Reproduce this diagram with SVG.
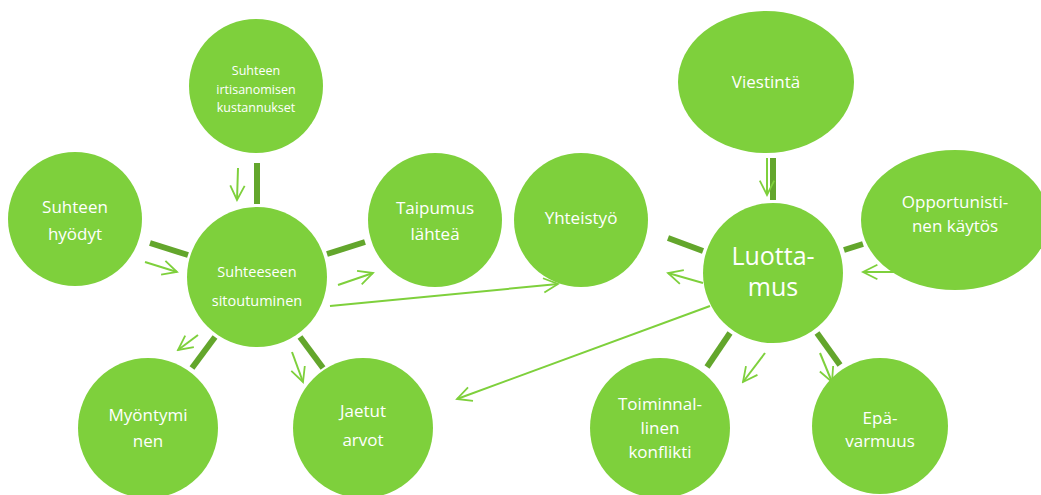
<svg xmlns="http://www.w3.org/2000/svg" width="1041" height="495" viewBox="0 0 1041 495">
  <defs>
    <style>
      .node { fill: #7ed03c; }
      .lbl { fill: #ffffff; font-family: "Open Sans", "Noto Sans", "Liberation Sans", sans-serif; text-anchor: middle; }
      .bar { stroke: #63a62c; stroke-width: 6; fill: none; }
      .arr { stroke: #7ed03c; stroke-width: 2; fill: none; marker-end: url(#head); }
    </style>
    <marker id="head" viewBox="0 0 20 20" refX="18" refY="10" markerWidth="18" markerHeight="18" markerUnits="userSpaceOnUse" orient="auto">
      <path d="M2,2 L18,10 L2,18" fill="none" stroke="#7ed03c" stroke-width="2"/>
    </marker>
  </defs>

  <rect width="1041" height="495" fill="#ffffff"/>

  <g id="connectors">
    <!-- thick links -->
    <line class="bar" x1="257" y1="163" x2="257" y2="204"/>
    <line class="bar" x1="150" y1="243" x2="188" y2="255"/>
    <line class="bar" x1="327" y1="254" x2="365" y2="242"/>
    <line class="bar" x1="215" y1="337" x2="192" y2="368"/>
    <line class="bar" x1="300" y1="337" x2="323" y2="368"/>
    <line class="bar" x1="773" y1="158" x2="773" y2="200"/>
    <line class="bar" x1="668" y1="238" x2="703" y2="251"/>
    <line class="bar" x1="844" y1="250" x2="863" y2="244"/>
    <line class="bar" x1="730" y1="333" x2="707" y2="367"/>
    <line class="bar" x1="817" y1="333" x2="840" y2="365"/>
    <!-- directed links -->
    <line class="arr" x1="238" y1="168" x2="237" y2="200"/>
    <line class="arr" x1="145" y1="262" x2="177" y2="272"/>
    <line class="arr" x1="338" y1="285" x2="373" y2="273"/>
    <line class="arr" x1="198" y1="335" x2="178" y2="350"/>
    <line class="arr" x1="292" y1="352" x2="303" y2="382"/>
    <line class="arr" x1="330" y1="306" x2="558" y2="284"/>
    <line class="arr" x1="710" y1="306" x2="457" y2="399"/>
    <line class="arr" x1="703" y1="283" x2="668" y2="273"/>
    <line class="arr" x1="903" y1="272" x2="863" y2="272"/>
    <line class="arr" x1="767" y1="158" x2="767" y2="195"/>
    <line class="arr" x1="765" y1="353" x2="743" y2="382"/>
    <line class="arr" x1="820" y1="353" x2="832" y2="382"/>
  </g>

  <g id="irtisanomisen">
    <circle class="node" cx="256" cy="86" r="67"/>
    <text class="lbl" font-size="12.5"><tspan x="256" y="75">Suhteen</tspan><tspan x="256" y="94">irtisanomisen</tspan><tspan x="256" y="112">kustannukset</tspan></text>
  </g>
  <g id="hyodyt">
    <circle class="node" cx="75" cy="219" r="67"/>
    <text class="lbl" font-size="17"><tspan x="75" y="213">Suhteen</tspan><tspan x="75" y="240">hyödyt</tspan></text>
  </g>
  <g id="sitoutuminen">
    <circle class="node" cx="257" cy="277" r="70"/>
    <text class="lbl" font-size="14.5"><tspan x="257" y="277">Suhteeseen</tspan><tspan x="257" y="306">sitoutuminen</tspan></text>
  </g>
  <g id="taipumus">
    <circle class="node" cx="435" cy="220" r="67"/>
    <text class="lbl" font-size="17"><tspan x="435" y="214">Taipumus</tspan><tspan x="435" y="240">lähteä</tspan></text>
  </g>
  <g id="myontyminen">
    <circle class="node" cx="148" cy="428" r="70"/>
    <text class="lbl" font-size="17"><tspan x="148" y="421">Myöntymi</tspan><tspan x="148" y="447">nen</tspan></text>
  </g>
  <g id="jaetut">
    <circle class="node" cx="363" cy="428" r="70"/>
    <text class="lbl" font-size="17"><tspan x="363" y="417">Jaetut</tspan><tspan x="363" y="446">arvot</tspan></text>
  </g>
  <g id="yhteistyo">
    <circle class="node" cx="581" cy="220" r="67"/>
    <text class="lbl" font-size="17" x="581" y="224">Yhteistyö</text>
  </g>
  <g id="viestinta">
    <ellipse class="node" cx="766" cy="82" rx="88" ry="71"/>
    <text class="lbl" font-size="17" x="766" y="88">Viestintä</text>
  </g>
  <g id="luottamus">
    <circle class="node" cx="773" cy="273" r="70"/>
    <text class="lbl" font-size="25"><tspan x="773" y="265">Luotta-</tspan><tspan x="773" y="296">mus</tspan></text>
  </g>
  <g id="opportunistinen">
    <ellipse class="node" cx="955" cy="220" rx="94" ry="70"/>
    <text class="lbl" font-size="17"><tspan x="955" y="208">Opportunisti-</tspan><tspan x="955" y="232">nen käytös</tspan></text>
  </g>
  <g id="toiminnallinen">
    <circle class="node" cx="660" cy="428" r="70"/>
    <text class="lbl" font-size="17"><tspan x="660" y="410">Toiminnal-</tspan><tspan x="660" y="434">linen</tspan><tspan x="660" y="458">konflikti</tspan></text>
  </g>
  <g id="epavarmuus">
    <circle class="node" cx="880" cy="426" r="68"/>
    <text class="lbl" font-size="17"><tspan x="880" y="424">Epä-</tspan><tspan x="880" y="447">varmuus</tspan></text>
  </g>
</svg>
